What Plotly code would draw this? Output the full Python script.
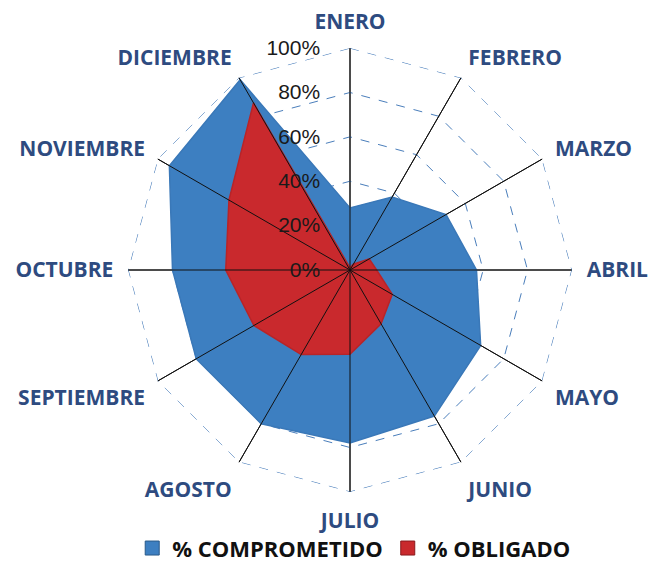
import plotly.graph_objects as go

meses = ["ENERO", "FEBRERO", "MARZO", "ABRIL", "MAYO", "JUNIO", "JULIO",
         "AGOSTO", "SEPTIEMBRE", "OCTUBRE", "NOVIEMBRE", "DICIEMBRE"]
comprometido = [0.28, 0.38, 0.50, 0.57, 0.68, 0.76, 0.78, 0.80, 0.80, 0.80, 0.94, 0.99]
obligado = [0.01, 0.03, 0.10, 0.12, 0.22, 0.28, 0.38, 0.44, 0.50, 0.56, 0.63, 0.87]
ticks = [0, 0.2, 0.4, 0.6, 0.8, 1.0]

BLUE, RED = "#3D7FC1", "#C9292D"
GRID = "#4A7EBB"

def closed(v):
    return list(v) + [v[0]]

fig = go.Figure()
# outer dashed ring (100% grid level)
fig.add_trace(go.Scatterpolar(r=closed([ticks[-1]] * len(meses)), theta=closed(meses),
                              mode="lines", showlegend=False, hoverinfo="skip",
                              line=dict(color=GRID, width=1, dash="dash")))
fig.add_trace(go.Scatterpolar(
    r=closed(comprometido), theta=closed(meses), name="% COMPROMETIDO",
    mode="lines", fill="toself", fillcolor=BLUE, showlegend=False,
    line=dict(color="#3A78B8", width=1.5)))
fig.add_trace(go.Scatterpolar(
    r=closed(obligado), theta=closed(meses), name="% OBLIGADO",
    mode="lines", fill="toself", fillcolor=RED, showlegend=False,
    line=dict(color="#B82428", width=1.5)))

# spokes drawn above the filled areas, as in the reference
sr, st = [], []
for m in meses:
    sr += [0, ticks[-1], None]
    st += [m, m, None]
fig.add_trace(go.Scatterpolar(r=sr, theta=st, mode="lines", showlegend=False,
                              hoverinfo="skip", line=dict(color="#111111", width=1)))

# legend entries with square swatches
for name, col, edge in [("% COMPROMETIDO", BLUE, "#2a5a8a"), ("% OBLIGADO", RED, "#8a1a1d")]:
    fig.add_trace(go.Scatterpolar(r=[None], theta=[None], name=name, mode="markers",
                                  marker=dict(symbol="square", size=14, color=col,
                                              line=dict(color=edge, width=1))))

W, H = 649, 582
cx, cy, R = 350, 270, 222
fig.update_layout(
    width=W, height=H, margin=dict(l=0, r=0, t=0, b=0),
    paper_bgcolor="white", plot_bgcolor="white",
    polar=dict(
        domain=dict(x=[(cx - R) / W, (cx + R) / W],
                    y=[(H - cy - R) / H, (H - cy + R) / H]),
        gridshape="linear", bgcolor="white",
        angularaxis=dict(direction="clockwise", rotation=90,
                         gridcolor="#111111", gridwidth=1,
                         showline=False, ticks="outside", ticklen=10,
                         tickcolor="rgba(0,0,0,0)",
                         tickfont=dict(family="Open Sans", size=21, color="#2E4B80", weight="bold")),
        radialaxis=dict(range=[0, 1.0005], tickvals=ticks, tickformat=".0%",
                        angle=90, tickangle=90, side="counterclockwise",
                        showline=False, ticks="outside", ticklen=22,
                        tickcolor="rgba(0,0,0,0)",
                        gridcolor=GRID, griddash="dash", gridwidth=1,
                        tickfont=dict(family="Liberation Sans", size=21, color="#1a1a1a")),
    ),
    showlegend=True,
    legend=dict(orientation="h", x=0.545, xanchor="center", y=0.058, yanchor="middle",
                bgcolor="rgba(0,0,0,0)",
                font=dict(family="Open Sans", size=22, color="#111111", weight="bold"),
                traceorder="normal"),
)
fig.write_html("out.html", config={"displayModeBar": False},
               post_script="document.body.style.margin='0';")
